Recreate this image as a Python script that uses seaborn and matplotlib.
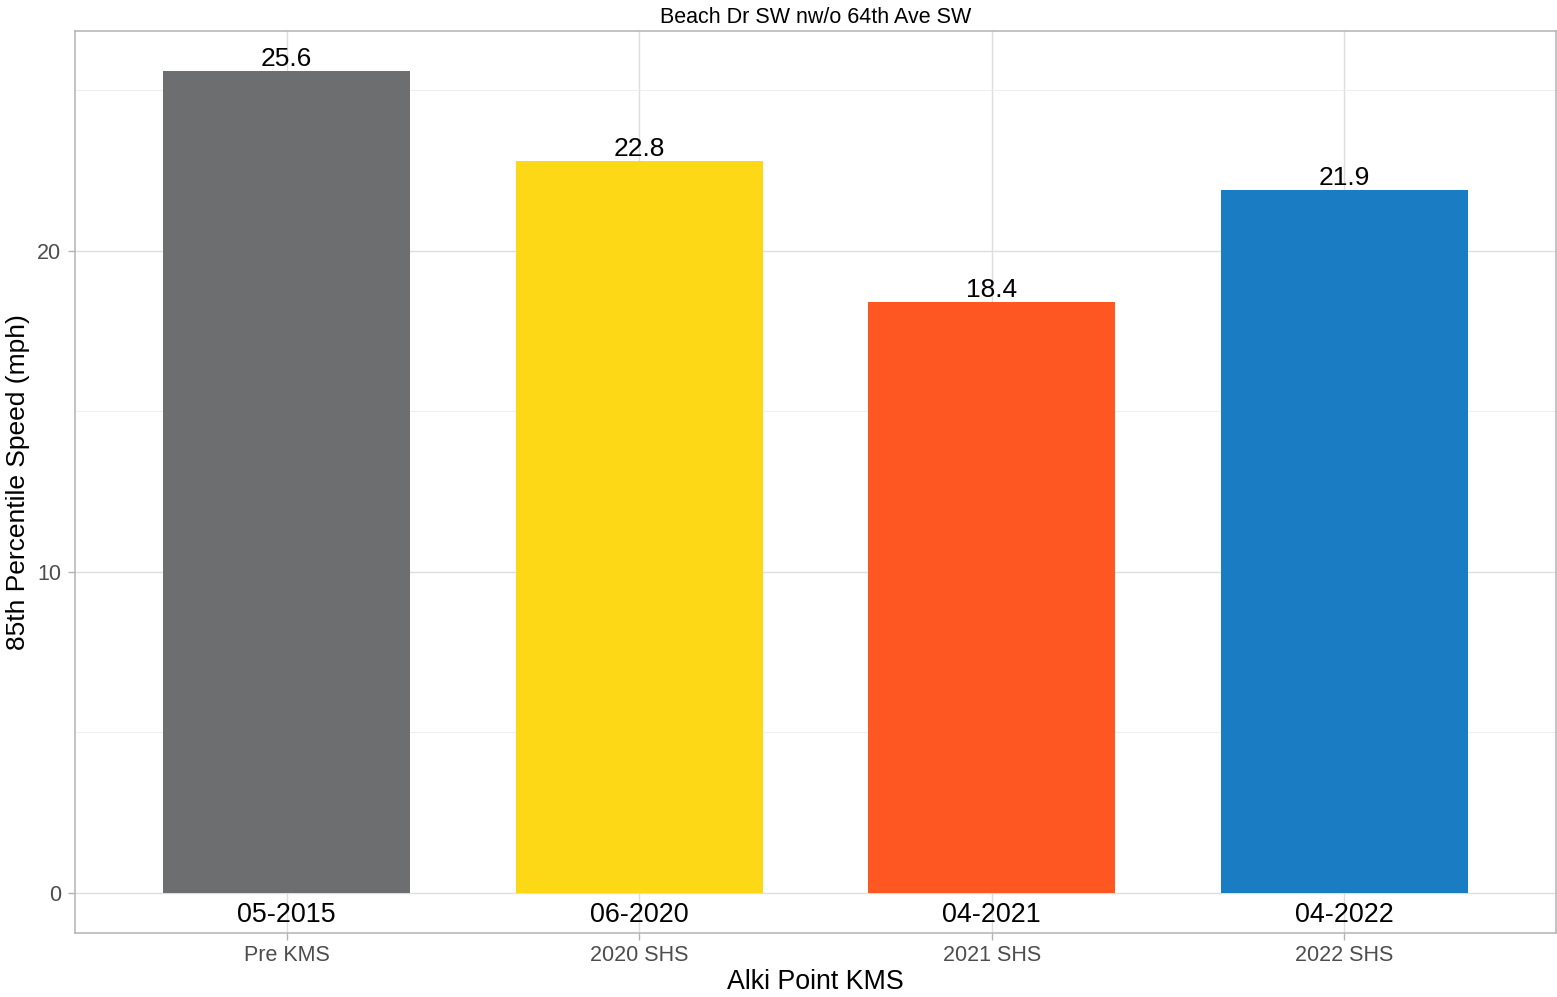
import pandas as pd
import matplotlib
matplotlib.use("Agg")
import matplotlib.pyplot as plt
import seaborn as sns
from matplotlib.ticker import MultipleLocator

# Data
periods = ["Pre KMS", "2020 SHS", "2021 SHS", "2022 SHS"]
dates = ["05-2015", "06-2020", "04-2021", "04-2022"]
speed_85 = [25.6, 22.8, 18.4, 21.9]
bar_colors = ["#6D6E70", "#FCD817", "#FF5722", "#1A7DC4"]

data = pd.DataFrame({"Period": periods, "Date": dates, "Speed": speed_85})

sns.set_style("white")
plt.rcParams["font.family"] = ["Liberation Sans", "DejaVu Sans"]

fig = plt.figure(figsize=(15.57, 9.97), dpi=100)
ax = fig.add_axes([0.0482, 0.0642, 0.9512, 0.9047])

sns.barplot(x="Period", y="Speed", hue="Period", data=data, palette=bar_colors,
            width=0.7, legend=False, ax=ax, saturation=1, linewidth=0, zorder=3)

# value labels above bars, date labels under the baseline
for i, row in data.iterrows():
    ax.annotate(f"{row['Speed']:.1f}", (i, row["Speed"]), xytext=(0, 0),
                textcoords="offset points", ha="center", va="bottom",
                fontsize=19, color="black", zorder=4)
    ax.annotate(row["Date"], (i, 0), xytext=(0, -6.5), textcoords="offset points",
                ha="center", va="top", fontsize=19.4, color="black", zorder=4)

ax.set_xlim(-0.6, 3.6)
ax.set_ylim(-1.25, 26.85)
ax.yaxis.set_major_locator(MultipleLocator(10))
ax.yaxis.set_minor_locator(MultipleLocator(5))

ax.grid(which="major", color="#DEDEDE", linewidth=1.0, zorder=0)
ax.grid(which="minor", axis="y", color="#EBEBEB", linewidth=0.6, zorder=0)
ax.set_axisbelow(True)
for s in ax.spines.values():
    s.set_color("#B3B3B3")
    s.set_linewidth(1.1)

ax.tick_params(axis="both", which="major", length=5, width=1, color="#B3B3B3",
               labelcolor="#4D4D4D", labelsize=15.5, pad=5, direction="out",
               bottom=True, left=True)
ax.tick_params(axis="x", which="major", pad=4)
ax.tick_params(axis="y", which="minor", length=0)

ax.set_xlabel("Alki Point KMS", fontsize=19.3, color="black", labelpad=2)
ax.set_ylabel("85th Percentile Speed (mph)", fontsize=19, color="black", labelpad=5)
ax.set_title("Beach Dr SW nw/o 64th Ave SW", fontsize=15.5, color="black", pad=6)

fig.savefig("out.png", dpi=100)
